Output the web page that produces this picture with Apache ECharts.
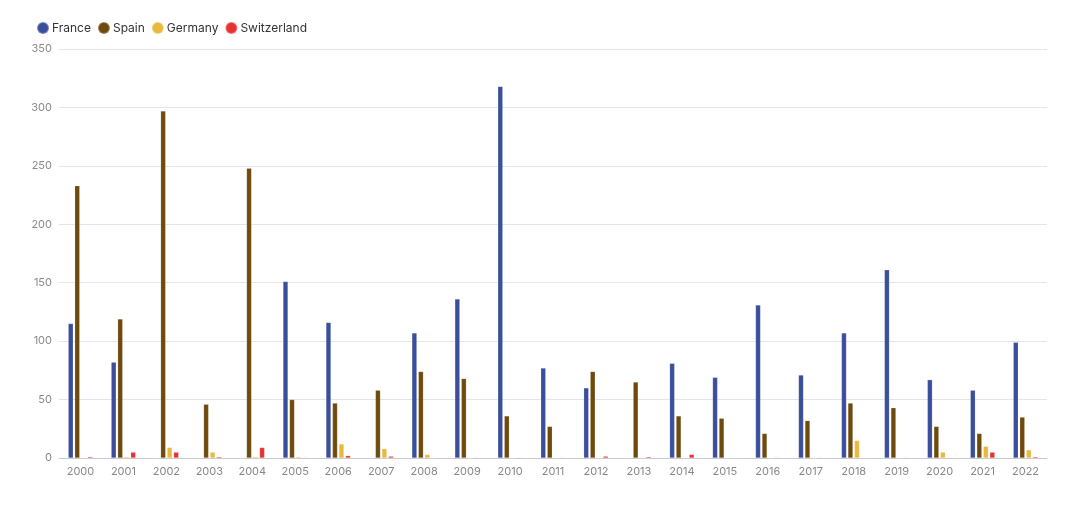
<!DOCTYPE html>
<html>
<head>
<meta charset="utf-8">
<script src="https://cdn.jsdelivr.net/npm/echarts@6/dist/echarts.min.js"></script>
<style>
html,body{margin:0;padding:0;background:#fff;}
#chart{width:1080px;height:512px;}
</style>
</head>
<body>
<div id="chart"></div>
<script>
const years = ['2000','2001','2002','2003','2004','2005','2006','2007','2008','2009','2010','2011','2012','2013','2014','2015','2016','2017','2018','2019','2020','2021','2022'];
const france = [115, 82, 0, 0, 0, 151, 116, 0, 107, 136, 318, 77, 60, 0, 81, 69, 131, 71, 107, 161, 67, 58, 99];
const spain = [233, 119, 297, 46, 248, 50, 47, 58, 74, 68, 36, 27, 74, 65, 36, 34, 21, 32, 47, 43, 27, 21, 35];
const germany = [0, 1, 9, 5, 1, 1, 12, 8, 3, 0, 0, 0, 0, 0, 0, 0, 0, 0, 15, 0, 5, 10, 7];
const switzerland = [1, 5, 5, 1, 9, 0.5, 2, 1.5, 0, 0.5, 0.5, 0.5, 1.5, 1, 3, 0.2, 0.5, 0.5, 0.3, 0.5, 0.5, 5, 1];
const yTicks = [0, 50, 100, 150, 200, 250, 300, 350];

const chart = echarts.init(document.getElementById('chart'));
const font = 'Inter, "Noto Sans", sans-serif';
function mk(name, data, color) {
  return {
    name, type: 'bar', data, barWidth: 5, barGap: '30%',
    itemStyle: { color, borderColor: 'rgba(255,255,255,0.35)', borderWidth: 0.5 }
  };
}
chart.setOption({
  animation: false,
  textStyle: { fontFamily: font },
  legend: {
    left: 31, top: 16, itemWidth: 12, itemHeight: 12, itemGap: 6, icon: 'circle',
    textStyle: { fontFamily: font, fontSize: 12, color: '#333', padding: [0, 0, 0, -2] },
    data: ['France', 'Spain', 'Germany', 'Switzerland']
  },
  grid: { left: 59, right: 33, top: 49, bottom: 54 },
  xAxis: {
    type: 'category', data: years,
    axisLine: { lineStyle: { color: '#c8c8d0' } },
    axisTick: { show: false },
    axisLabel: { color: '#888', fontSize: 11, fontFamily: font, margin: 8 }
  },
  yAxis: {
    type: 'value', min: yTicks[0], max: yTicks[yTicks.length - 1], interval: 50,
    axisLine: { show: false }, axisTick: { show: false },
    splitLine: { lineStyle: { color: '#e4e4ec' } },
    axisLabel: { color: '#8a8a8a', fontSize: 11, fontFamily: font, margin: 7 }
  },
  series: [
    mk('France', france, '#3a4e9c'),
    mk('Spain', spain, '#6e4a0c'),
    mk('Germany', germany, '#e9b83f'),
    mk('Switzerland', switzerland, '#e83232')
  ]
});
</script>
</body>
</html>
